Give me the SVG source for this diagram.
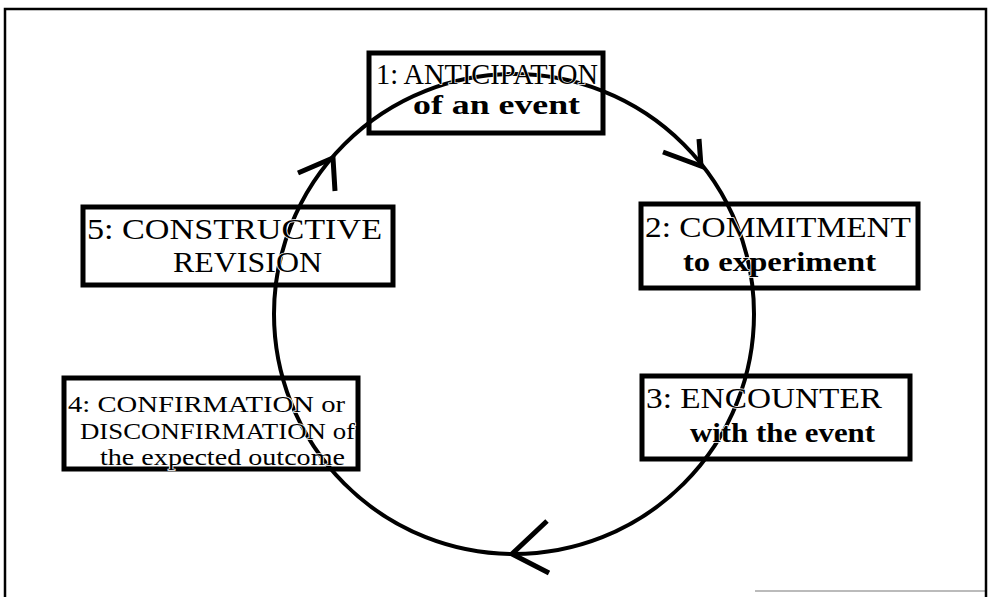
<svg xmlns="http://www.w3.org/2000/svg" width="992" height="597" viewBox="0 0 992 597">
  <style>
    .frame { fill: none; stroke: #000; stroke-width: 2.5; }
    .box { fill: none; stroke: #000; stroke-width: 5; }
    .cycle { fill: none; stroke: #000; stroke-width: 4; }
    .chev { fill: none; stroke: #000; stroke-width: 5; stroke-linecap: butt; stroke-linejoin: miter; }
    text { font-family: "Liberation Serif", "Times New Roman", serif; fill: #000;
           stroke: #fff; stroke-width: 1.5; paint-order: stroke; }
    .cap { font-size: 30px; }
    .sub { font-size: 28px; font-weight: bold; }
    .small { font-size: 23px; }
  </style>

  <rect width="992" height="597" fill="#fff"/>
  <!-- outer frame (bottom edge runs off the page) -->
  <path class="frame" d="M5,600 V9 H986 V600"/>
  <line x1="755" y1="591" x2="986" y2="591" stroke="#000" stroke-width="1.5" opacity="0.35"/>

  <!-- cycle and direction marks -->
  <g id="connectors">
    <circle class="cycle" cx="514" cy="314" r="240"/>
    <polyline class="chev" points="663,152 701,166 699,139"/>
    <polyline class="chev" points="298,173 333,158 335,191"/>
    <polyline class="chev" points="547,521 512,554 549,573"/>
  </g>

  <g id="node1">
    <rect class="box" x="369" y="53" width="234" height="80"/>
    <text class="cap" x="376" y="84" textLength="222" lengthAdjust="spacingAndGlyphs">1:  ANTICIPATION</text>
    <text class="sub" x="413" y="114" textLength="167" lengthAdjust="spacingAndGlyphs">of an event</text>
  </g>

  <g id="node2">
    <rect class="box" x="641" y="204" width="277" height="84"/>
    <text class="cap" x="645" y="237" textLength="266" lengthAdjust="spacingAndGlyphs">2:  COMMITMENT</text>
    <text class="sub" x="683" y="271" textLength="193" lengthAdjust="spacingAndGlyphs">to experiment</text>
  </g>

  <g id="node3">
    <rect class="box" x="642" y="376" width="268" height="83"/>
    <text class="cap" x="646" y="408" textLength="236" lengthAdjust="spacingAndGlyphs">3:  ENCOUNTER</text>
    <text class="sub" x="690" y="442" textLength="185" lengthAdjust="spacingAndGlyphs">with the event</text>
  </g>

  <g id="node4">
    <rect class="box" x="64" y="378" width="294" height="91"/>
    <text class="small" x="68" y="412" textLength="277" lengthAdjust="spacingAndGlyphs">4:  CONFIRMATION or</text>
    <text class="small" x="80" y="439" textLength="275" lengthAdjust="spacingAndGlyphs">DISCONFIRMATION of</text>
    <text class="small" x="100" y="465" textLength="245" lengthAdjust="spacingAndGlyphs">the expected outcome</text>
  </g>

  <g id="node5">
    <rect class="box" x="83" y="207" width="310" height="78"/>
    <text class="cap" x="87" y="239" textLength="295" lengthAdjust="spacingAndGlyphs">5:  CONSTRUCTIVE</text>
    <text class="cap" x="173" y="272" textLength="149" lengthAdjust="spacingAndGlyphs">REVISION</text>
  </g>
</svg>
